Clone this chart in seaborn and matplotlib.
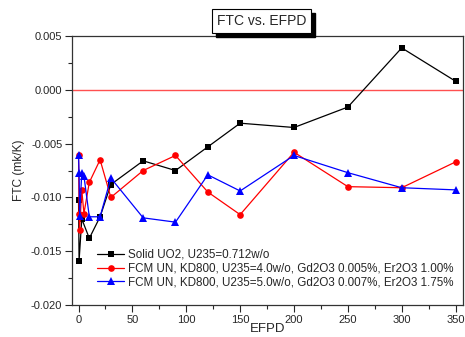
import numpy as np
import pandas as pd
import matplotlib
matplotlib.use("Agg")
import matplotlib.pyplot as plt
from matplotlib.patches import Rectangle
from matplotlib.ticker import MultipleLocator, FormatStrFormatter
import seaborn as sns

# data
efpd_uo2 = [0, 0.5, 3, 10, 20, 30, 60, 90, 120, 150, 200, 250, 300, 350]
ftc_uo2 = [-0.0102, -0.0159, -0.0120, -0.0138, -0.0118, -0.0088, -0.0066,
           -0.0075, -0.0053, -0.0031, -0.0035, -0.0016, 0.0039, 0.0008]

efpd_fcm = [0, 0.5, 1, 3, 5, 10, 20, 30, 60, 90, 120, 150, 200, 250, 300, 350]
ftc_fcm4 = [-0.0061, -0.0115, -0.0130, -0.0093, -0.0115, -0.0086, -0.0065, -0.0100,
            -0.0075, -0.0061, -0.0095, -0.0116, -0.0058, -0.0090, -0.0091, -0.0067]
ftc_fcm5 = [-0.0061, -0.0077, -0.0117, -0.0077, -0.0080, -0.0118, -0.0118, -0.0082,
            -0.0119, -0.0123, -0.0079, -0.0094, -0.0061, -0.0077, -0.0091, -0.0093]

labels = ["Solid UO2, U235=0.712w/o",
          "FCM UN, KD800, U235=4.0w/o, Gd2O3 0.005%, Er2O3 1.00%",
          "FCM UN, KD800, U235=5.0w/o, Gd2O3 0.007%, Er2O3 1.75%"]

sns.set_style("ticks")
plt.rcParams['font.family'] = ['Liberation Sans', 'DejaVu Sans']
plt.rcParams['font.size'] = 8

fig = plt.figure(figsize=(4.65, 3.37), dpi=100)
ax = fig.add_axes([0.155, 0.095, 0.841, 0.798])

# zero reference line
ax.axhline(0, color='#ff5050', lw=1, zorder=1)

sns.lineplot(x=efpd_uo2, y=ftc_uo2, ax=ax, color='black', marker='s', markersize=4.2,
             markeredgewidth=0, lw=0.9, sort=False, estimator=None, label=labels[0])
sns.lineplot(x=efpd_fcm, y=ftc_fcm4, ax=ax, color='red', marker='o', markersize=4.8,
             markeredgewidth=0, lw=0.9, sort=False, estimator=None, label=labels[1])
sns.lineplot(x=efpd_fcm, y=ftc_fcm5, ax=ax, color='blue', marker='^', markersize=5.2,
             markeredgewidth=0, lw=0.9, sort=False, estimator=None, label=labels[2])

ax.set_xlim(-6, 357)
ax.set_ylim(-0.020, 0.005)
ax.xaxis.set_major_locator(MultipleLocator(50))
ax.xaxis.set_minor_locator(MultipleLocator(25))
ax.yaxis.set_major_locator(MultipleLocator(0.005))
ax.yaxis.set_minor_locator(MultipleLocator(0.0025))
ax.yaxis.set_major_formatter(FormatStrFormatter('%.3f'))

for s in ax.spines.values():
    s.set_visible(True)
    s.set_color('#333333')
    s.set_linewidth(0.9)
ax.tick_params(which='major', length=5, width=0.8, pad=2, labelsize=8)
ax.tick_params(which='minor', length=3, width=0.8)
ax.tick_params(top=False, right=False)

ax.set_xlabel('EFPD', fontsize=9.5, labelpad=-1)
ax.set_ylabel('FTC (mk/K)', fontsize=8.6, labelpad=4)

ax.legend(loc='upper left', bbox_to_anchor=(0.05, 0.23), frameon=False,
          borderpad=0, handlelength=2.3, handletextpad=0.3, labelspacing=0.15,
          fontsize=8.4)

# title box with drop shadow
title = fig.text(0.563, 0.938, 'FTC vs. EFPD', fontsize=10, ha='center', va='center',
                 zorder=5,
                 bbox=dict(boxstyle='square,pad=0.35', fc='white', ec='black', lw=0.8))
fig.canvas.draw()
bb = title.get_bbox_patch().get_window_extent()
fig.patches.append(Rectangle((bb.x0 + 4, bb.y0 - 4), bb.width, bb.height,
                             transform=None, fc='black', ec='black', zorder=4))

fig.savefig('out.png', dpi=100)
